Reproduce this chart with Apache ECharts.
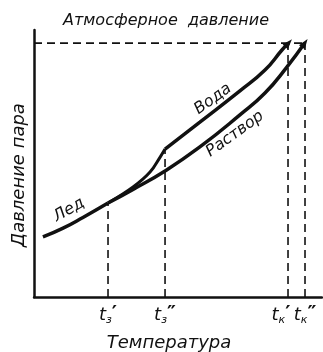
<!DOCTYPE html>
<html><head><meta charset="utf-8">
<script src="https://cdn.jsdelivr.net/npm/echarts@6/dist/echarts.min.js"></script>
<style>html,body{margin:0;padding:0;background:#fff}#c{width:323px;height:352px}</style>
</head><body><div id="c"></div>
<script>
// Data (arbitrary units: temperature 0..100, pressure 0..100)
const iceX = [3.1, 10.1, 17.0, 25.7];
const iceY = [22.5, 25.8, 29.8, 35.2];
const superX = [25.7, 34.4, 40.3, 43.8, 45.5];
const superY = [35.2, 41.2, 46.8, 52.4, 55.4];
const waterX = [45.5, 57.6, 71.5, 80.2, 86.1, 88.4];
const waterY = [55.4, 65.5, 77.2, 85.0, 92.5, 95.1];
const solX = [25.7, 34.4, 45.5, 57.6, 71.5, 80.2, 87.8, 94.0];
const solY = [35.2, 40.3, 47.2, 56.2, 68.2, 76.4, 86.1, 95.1];
const atmPressure = 95.1;
const tickValues = [25.7, 45.5, 88.2, 94.1];
const tickSub = ['з', 'з', 'к', 'к'];
const tickPrime = ['′', '″', '′', '″'];
const dashTops = [35.2, 55.4, 95.1, 95.1];
const curveNames = ['Лед', 'Вода', 'Раствор'];

const FF = "'DejaVu Sans', sans-serif";
const zip = (xs, ys) => xs.map((x, i) => [x, ys[i]]);
const black = '#111';

function withArrow(pts, rot) {
  return pts.map((p, i) => i === pts.length - 1
    ? {value: p, symbol: 'triangle', symbolSize: [7, 10], symbolRotate: rot, itemStyle: {color: black}}
    : {value: p, symbol: 'none'});
}

const series = [
  {type: 'line', data: zip(iceX, iceY), smooth: 0.5, showSymbol: false, lineStyle: {color: black, width: 3.5}},
  {type: 'line', data: zip(superX, superY), smooth: 0.4, showSymbol: false, lineStyle: {color: black, width: 3}},
  {type: 'line', data: withArrow(zip(waterX, waterY), -42), smooth: 0.5, lineStyle: {color: black, width: 3.5}},
  {type: 'line', data: withArrow(zip(solX, solY), -35), smooth: 0.5, lineStyle: {color: black, width: 3.5}},
  {type: 'line', data: [[0, atmPressure], [Math.max(...tickValues), atmPressure]], showSymbol: false,
   lineStyle: {color: black, width: 1.6, type: [8, 5]}}
];
tickValues.forEach((v, i) => {
  series.push({type: 'line', data: [[v, 0], [v, dashTops[i]]], showSymbol: false,
    lineStyle: {color: black, width: 1.6, type: [8, 5]}});
});
series.forEach(s => { s.animation = false; s.silent = true; s.z = 3; });

const labelRich = {
  t: {fontFamily: FF, fontStyle: 'italic', fontSize: 18, lineHeight: 22, color: black},
  s: {fontFamily: FF, fontStyle: 'italic', fontSize: 11, lineHeight: 11, verticalAlign: 'bottom', color: black},
  p: {fontFamily: FF, fontSize: 20, fontWeight: 'bold', lineHeight: 16, verticalAlign: 'top', color: black},
  q: {fontFamily: FF, fontSize: 20, fontWeight: 'bold', lineHeight: 16, verticalAlign: 'top', color: black, padding: [0, 14, 0, 0]}
};
const fmt = (v) => {
  const i = tickValues.indexOf(v);
  const pStyle = i === 2 ? 'q' : 'p';
  return '{t|t}{s|' + tickSub[i] + '}{' + pStyle + '|' + tickPrime[i] + '}';
};
const evenTicks = tickValues.filter((v, i) => i % 2 === 0);
const oddTicks = tickValues.filter((v, i) => i % 2 === 1);

const chart = echarts.init(document.getElementById('c'));
chart.setOption({
  animation: false,
  backgroundColor: '#fff',
  title: [
    {text: 'Атмосферное  давление', left: 161, top: 8, textAlign: 'center',
     textStyle: {fontFamily: FF, fontStyle: 'italic', fontWeight: 'normal', fontSize: 16, color: black}},
    {text: 'Температура', left: 164, top: 329, textAlign: 'center',
     textStyle: {fontFamily: FF, fontStyle: 'italic', fontWeight: 'normal', fontSize: 18, color: black}}
  ],
  grid: {left: 34, right: 1, top: 30, bottom: 55},
  xAxis: [
    {type: 'value', min: 0, max: 100, splitLine: {show: false},
     axisLine: {lineStyle: {color: black, width: 2.5}},
     axisTick: {show: false},
     axisLabel: {customValues: evenTicks, margin: 7, color: black, hideOverlap: false, formatter: fmt, rich: labelRich}},
    {type: 'value', min: 0, max: 100, position: 'bottom', splitLine: {show: false},
     axisLine: {show: false}, axisTick: {show: false},
     axisLabel: {customValues: oddTicks, margin: 7, color: black, hideOverlap: false, formatter: fmt, rich: labelRich}}
  ],
  yAxis: {type: 'value', min: 0, max: 100, splitLine: {show: false},
    axisLine: {show: true, lineStyle: {color: black, width: 2.5}},
    axisTick: {show: false}, axisLabel: {show: false}},
  graphic: [
    {type: 'text', x: 19, y: 175, rotation: Math.PI / 2,
     style: {text: 'Давление пара', font: 'italic 18px ' + FF, fill: black, align: 'center', verticalAlign: 'middle'}},
    {type: 'text', x: 69, y: 210, rotation: 30 * Math.PI / 180,
     style: {text: curveNames[0], font: 'italic 16px ' + FF, fill: black, align: 'center', verticalAlign: 'middle'}},
    {type: 'text', x: 213, y: 99, rotation: 36 * Math.PI / 180,
     style: {text: curveNames[1], font: 'italic 16px ' + FF, fill: black, align: 'center', verticalAlign: 'middle'}},
    {type: 'text', x: 235, y: 134, rotation: 36 * Math.PI / 180,
     style: {text: curveNames[2], font: 'italic 16px ' + FF, fill: black, align: 'center', verticalAlign: 'middle'}}
  ],
  series: series
});
</script></body></html>
